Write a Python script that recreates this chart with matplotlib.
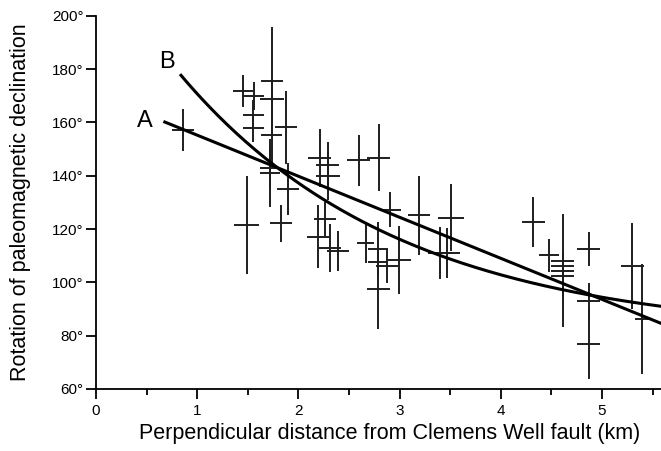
import numpy as np
import matplotlib
matplotlib.use("Agg")
import matplotlib.pyplot as plt
from matplotlib.ticker import MultipleLocator, FuncFormatter

plt.rcParams['font.family'] = ['Liberation Sans', 'DejaVu Sans']

# Site data: distance (km), rotation (deg), and half-widths of error bars
distance = [0.860, 1.450, 1.561, 1.556, 1.556, 1.739, 1.739, 1.739, 1.719, 1.719,
            1.873, 1.897, 1.489, 1.828, 2.213, 2.292, 2.292, 2.197, 2.263, 2.312,
            2.391, 2.594, 2.796, 2.668, 2.790, 2.790, 2.790, 2.875, 2.994, 2.910,
            3.192, 3.399, 3.473, 3.508, 4.323, 4.481, 4.610, 4.610, 4.610, 4.610,
            4.867, 4.867, 4.867, 5.301, 5.395]
rotation = [157.1, 171.9, 169.9, 162.7, 157.9, 175.4, 168.6, 155.2, 142.9, 141.0,
            158.2, 135.0, 121.5, 122.2, 146.6, 144.0, 139.9, 117.1, 123.9, 112.9,
            111.7, 145.7, 146.8, 114.7, 112.5, 107.6, 97.5, 106.1, 108.4, 127.3,
            125.2, 111.0, 111.0, 124.3, 122.6, 110.2, 108.0, 106.3, 104.4, 102.4,
            112.5, 93.0, 76.9, 106.1, 86.2]
dist_err = [0.104, 0.099, 0.104, 0.104, 0.104, 0.109, 0.114, 0.104, 0.099, 0.099,
            0.109, 0.109, 0.124, 0.109, 0.114, 0.114, 0.119, 0.114, 0.109, 0.109,
            0.109, 0.109, 0.114, 0.084, 0.099, 0.099, 0.114, 0.109, 0.119, 0.099,
            0.109, 0.119, 0.119, 0.124, 0.109, 0.099, 0.109, 0.109, 0.109, 0.109,
            0.114, 0.114, 0.114, 0.114, 0.069]
rot_err = [7.9, 6.0, 5.2, 5.6, 5.2, 20.2, 7.5, 11.2, 7.5, 12.7,
           13.7, 9.6, 18.4, 6.9, 10.9, 8.6, 9.0, 11.9, 6.4, 9.0,
           7.5, 9.4, 12.7, 7.5, 10.1, 5.6, 15.0, 6.4, 12.7, 6.7,
           14.8, 9.7, 9.4, 12.7, 9.4, 6.2, 4.0, 6.0, 21.3, 8.0,
           6.4, 6.7, 13.1, 16.1, 20.6]

# Model curves
curve_A = {"label": "A", "x_start": 0.68, "x_end": 5.583, "intercept": 170.6, "slope": -15.4}
curve_B = {"label": "B", "x_start": 0.84, "x_end": 5.583, "offset": 80.0, "amp": 143.7, "k": 0.46}

x_ticks = [0, 1, 2, 3, 4, 5]
y_ticks = [60, 80, 100, 120, 140, 160, 180, 200]

fig = plt.figure(figsize=(6.61, 4.51), dpi=100)
ax = fig.add_axes([0.1452, 0.1375, 0.8548, 0.8277])

ax.errorbar(distance, rotation, xerr=dist_err, yerr=rot_err, fmt='none',
            ecolor='#1e1e1e', elinewidth=1.4, capsize=0)

xa = np.linspace(curve_A["x_start"], curve_A["x_end"], 200)
ax.plot(xa, curve_A["intercept"] + curve_A["slope"] * xa, color='black', lw=2.2)
xb = np.linspace(curve_B["x_start"], curve_B["x_end"], 200)
ax.plot(xb, curve_B["offset"] + curve_B["amp"] * np.exp(-curve_B["k"] * xb), color='black', lw=2.2)

ax.text(0.48, 160.5, "A", fontsize=17, ha='center', va='center')
ax.text(0.70, 182.6, "B", fontsize=17, ha='center', va='center')

ax.set_xlim(0, 5.583)
ax.set_ylim(60, 200)
ax.set_xticks(x_ticks)
ax.xaxis.set_minor_locator(MultipleLocator(0.5))
ax.set_yticks(y_ticks)
ax.yaxis.set_major_formatter(FuncFormatter(lambda v, p: f"{int(v)}°"))

for s in ['top', 'right']:
    ax.spines[s].set_visible(False)
for s in ['left', 'bottom']:
    ax.spines[s].set_linewidth(1.3)

ax.tick_params(axis='both', which='major', direction='out', length=7, width=1.3, labelsize=11)
ax.tick_params(axis='x', which='minor', direction='out', length=4, width=1.3)
ax.tick_params(axis='y', pad=2)
ax.tick_params(axis='x', pad=4)

ax.set_xlabel("Perpendicular distance from Clemens Well fault (km)", fontsize=15.5)
ax.set_ylabel("Rotation of paleomagnetic declination", fontsize=15.5)
ax.xaxis.set_label_coords(0.52, -0.118, transform=ax.transAxes)
ax.yaxis.set_label_coords(-0.133, 0.50, transform=ax.transAxes)
ax.xaxis.label.set_va('center')
ax.yaxis.label.set_va('center')

fig.savefig("out.png", dpi=100)
